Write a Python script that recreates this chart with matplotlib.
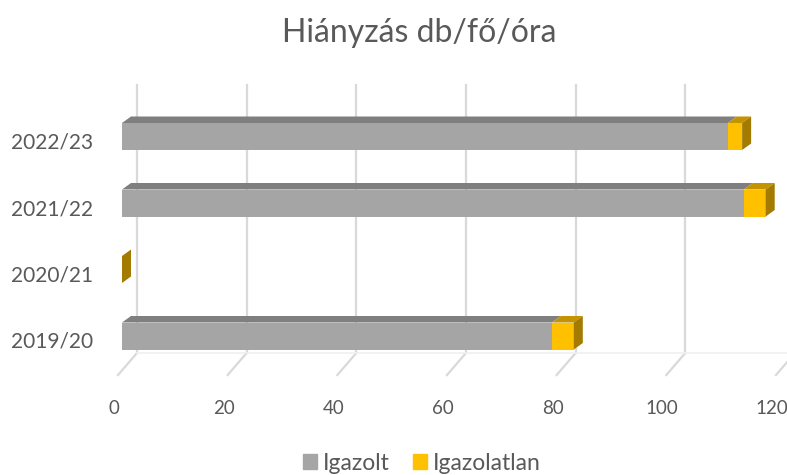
import matplotlib.pyplot as plt
from matplotlib.patches import Polygon, Patch

years = ['2019/20', '2020/21', '2021/22', '2022/23']
igazolt = [78.4, 0, 113.4, 110.5]
igazolatlan = [4.0, 0, 4.0, 2.6]
xticks = [0, 20, 40, 60, 80, 100, 120]

plt.rcParams['font.family'] = ['Lato', 'DejaVu Sans']
txt = '#595959'
c_grey, c_grey_top = '#a5a5a5', '#7f7f7f'
c_yel, c_yel_top, c_yel_side = '#ffc000', '#c49300', '#a37b00'
grid_c = '#d9d9d9'

W, H = 787, 475
fig = plt.figure(figsize=(W / 100, H / 100), dpi=100)
# axes: x=0 at px 122, 5.483 px per unit; categories 66.5 px apart, first centre at px 336
ppx = 5.483
ppy = 66.5
ytop, ybot = (336 - 85) / ppy, (336 - 375) / ppy
ax = fig.add_axes([122 / W, 1 - 375 / H, 120 * ppx / W, 290 / H])
ax.set_xlim(0, 120)
ax.set_ylim(ybot, ytop)
ax.set_axis_off()

# walls / floor gridlines (back plane shifted 15px right, floor front 4px left)
bx, fx = 15 / ppx, -4 / ppx
yb_back = (336 - 353) / ppy
for t in xticks:
    ax.plot([t + bx, t + bx], [yb_back, ytop], color=grid_c, lw=1.6, clip_on=False, zorder=0)
    ax.plot([t + bx, t + fx], [yb_back, ybot], color=grid_c, lw=1.6, clip_on=False, zorder=0)
ax.plot([bx, 120 + bx], [yb_back, yb_back], color='#f0f0f0', lw=1.2, clip_on=False, zorder=0)

# bars: front faces + 3D top/side faces
h = 27 / ppy
dx, dy = 9 / ppx, 6.5 / ppy
pos = list(range(len(years)))
ax.barh(pos, igazolt, height=h, color=c_grey, zorder=2)
ax.barh(pos, igazolatlan, left=igazolt, height=h, color=c_yel, zorder=2)
for i in pos:
    top = i + h / 2
    segs = [(0, igazolt[i], c_grey_top), (igazolt[i], igazolt[i] + igazolatlan[i], c_yel_top)]
    for l, r, c in segs:
        if r > l:
            ax.add_patch(Polygon([(l, top), (r, top), (r + dx, top + dy), (l + dx, top + dy)],
                                 closed=True, color=c, lw=0, zorder=2))
    r = igazolt[i] + igazolatlan[i]
    ax.add_patch(Polygon([(r, i - h / 2), (r, top), (r + dx, top + dy), (r + dx, i - h / 2 + dy)],
                         closed=True, color=c_yel_side, lw=0, zorder=3))

# category labels
for i, y in enumerate(years):
    ax.text(-29 / ppx, i - 6 / ppy, y, ha='right', va='center', fontsize=15, color=txt)
# value labels
for t in xticks:
    ax.text(t - 8 / ppx, (336 - 408) / ppy, str(t), ha='center', va='center', fontsize=13.5,
            color=txt, clip_on=False)

fig.text(419 / W, 1 - 33 / H, 'Hiányzás db/fő/óra', ha='center', va='center',
         fontsize=23, color=txt)

handles = [Patch(color=c_grey, label='Igazolt'), Patch(color=c_yel, label='Igazolatlan')]
fig.legend(handles=handles, loc='center', bbox_to_anchor=(422 / W, 1 - 463 / H), ncol=2,
           frameon=False, fontsize=16.5, labelcolor=txt, handlelength=0.62, handleheight=0.62,
           handletextpad=0.25, columnspacing=1.0)

fig.savefig('out.png', dpi=100)
